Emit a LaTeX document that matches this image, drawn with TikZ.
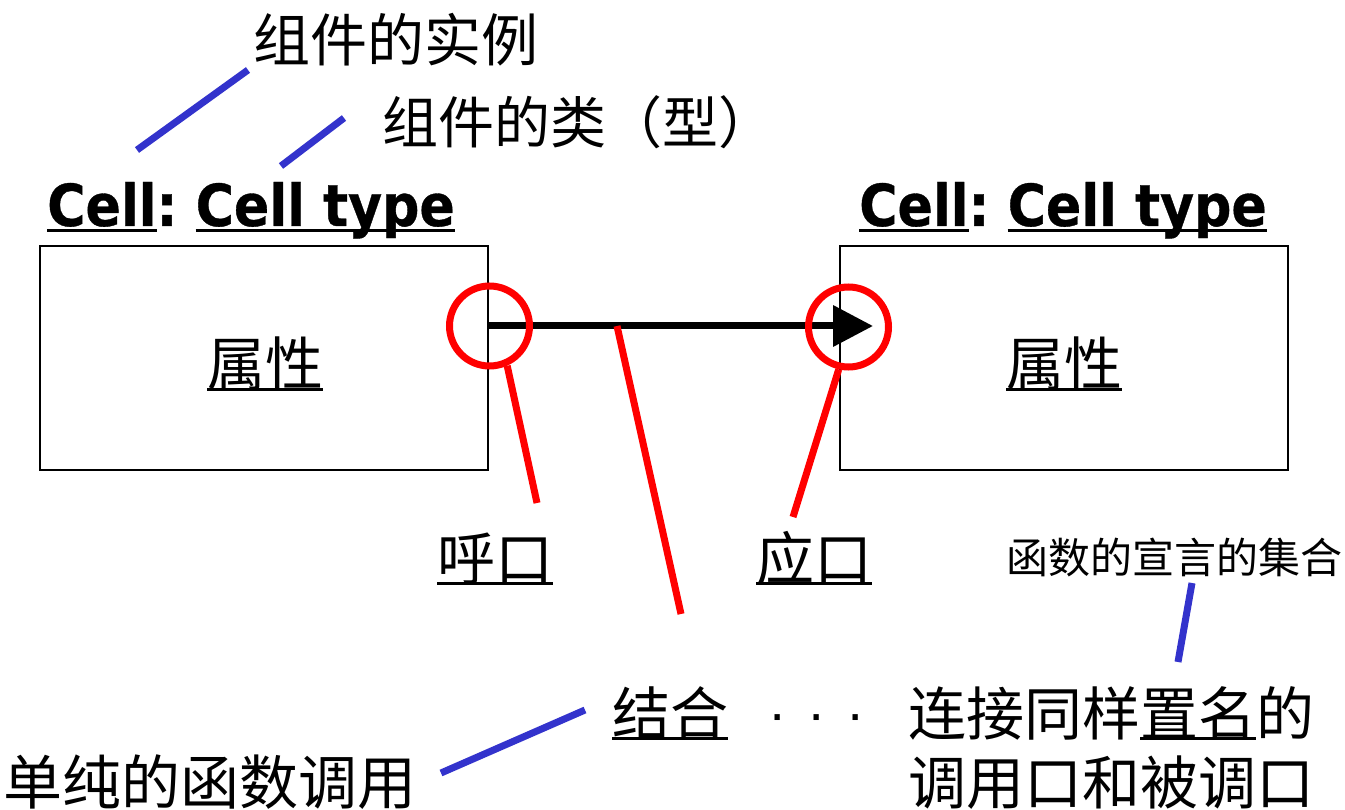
\documentclass[tikz,border=0pt]{standalone}
\usepackage{fontspec}
\setmainfont{Liberation Sans}
\newfontfamily\cjk{Noto Sans CJK SC}
\newfontfamily\cellfont{DejaVu Sans Condensed}[FakeBold=0.6]
\usetikzlibrary{arrows.meta}
\newcommand\myul[2][5pt]{\setbox0\hbox{#2}\rlap{\rule[-#1]{\wd0}{2.6pt}}\box0}
\definecolor{lblue}{RGB}{51,51,204}
\tikzset{
  box/.style={draw=black, line width=1.5pt, minimum width=448pt, minimum height=224pt, inner sep=0pt},
  port/.style={circle, draw=red, line width=7pt, minimum size=80pt, inner sep=0pt},
  redline/.style={draw=red, line width=7pt},
  blueline/.style={draw=lblue, line width=7pt},
  flow/.style={draw=black, line width=7pt, -{Triangle[length=40pt,width=40pt]}},
  zh/.style={inner sep=0pt, anchor=base west, font=\cjk\fontsize{58pt}{58pt}\selectfont},
  zhs/.style={inner sep=0pt, anchor=base west, font=\cjk\fontsize{42pt}{42pt}\selectfont},
  cell/.style={inner sep=0pt, anchor=base west, font=\cellfont\bfseries\fontsize{58pt}{58pt}\selectfont},
}
\begin{document}
\begin{tikzpicture}[x=1pt,y=-1pt]
\useasboundingbox (0,0) rectangle (1345,810);
% boxes
\node[box] (L) at (264,358) {};
\node[box] (R) at (1064,358) {};
\node[cell] (cL) at (47,226) {\myul[6pt]{Cell}:\ \myul[6pt]{Cell type}};
\node[cell] (cR) at (859,226) {\myul[6pt]{Cell}:\ \myul[6pt]{Cell type}};
\node[zh] (aL) at (207,386) {\myul{属性}};
\node[zh] (aR) at (1006,386) {\myul{属性}};
% top annotations
\node[zh, font=\cjk\fontsize{57pt}{57pt}\selectfont] (inst) at (253,62) {组件的实例};
\node[zh, font=\cjk\fontsize{56pt}{56pt}\selectfont] (type) at (382,144) {组件的类（型）};
\coordinate (i1) at (137,150);
\coordinate (i2) at (248,70);
\coordinate (t1) at (281,166);
\coordinate (t2) at (344,118);
\draw[blueline] (i1) -- (i2);
\draw[blueline] (t1) -- (t2);
% arrow
\coordinate (tip) at (873,326);
\draw[flow] (L.east |- tip) -- (tip);
% ports
\node[port] (p1) at (489.5,326) {};
\node[port] (p2) at (848.5,327) {};
\node[zh] (call) at (437,580) {\myul{呼口}};
\node[zh] (resp) at (756,580) {\myul{应口}};
\coordinate (a1) at (537,503);
\coordinate (a2) at (793,517);
\draw[redline] (p1.-66) -- (a1);
\draw[redline] (p2.-103) -- (a2);
\coordinate (m1) at (617,326);
\coordinate (m2) at (681,614);
\draw[redline] (m1) -- (m2);
% bottom
\node[zh] (bind) at (612,735) {\myul{结合}};
\node[inner sep=0pt, anchor=base west, font=\fontsize{55pt}{55pt}\selectfont] (dots) at (768,732) {·\hspace{20.7pt}·\hspace{20.7pt}·};
\node[zh] (desc1) at (908,735) {连接同样\myul{置名}的};
\node[zh] (desc2) at (908,804) {调用口和被调口};
\node[zhs] (decl) at (1006,573) {函数的宣言的集合};
\node[zh, font=\cjk\fontsize{59pt}{59pt}\selectfont] (simple) at (3,804) {单纯的函数调用};
\coordinate (d1) at (1192,583);
\coordinate (d2) at (1178,662);
\draw[blueline] (d1) -- (d2);
\coordinate (s1) at (441,773);
\coordinate (s2) at (585,710);
\draw[blueline] (s1) -- (s2);
\end{tikzpicture}
\end{document}
